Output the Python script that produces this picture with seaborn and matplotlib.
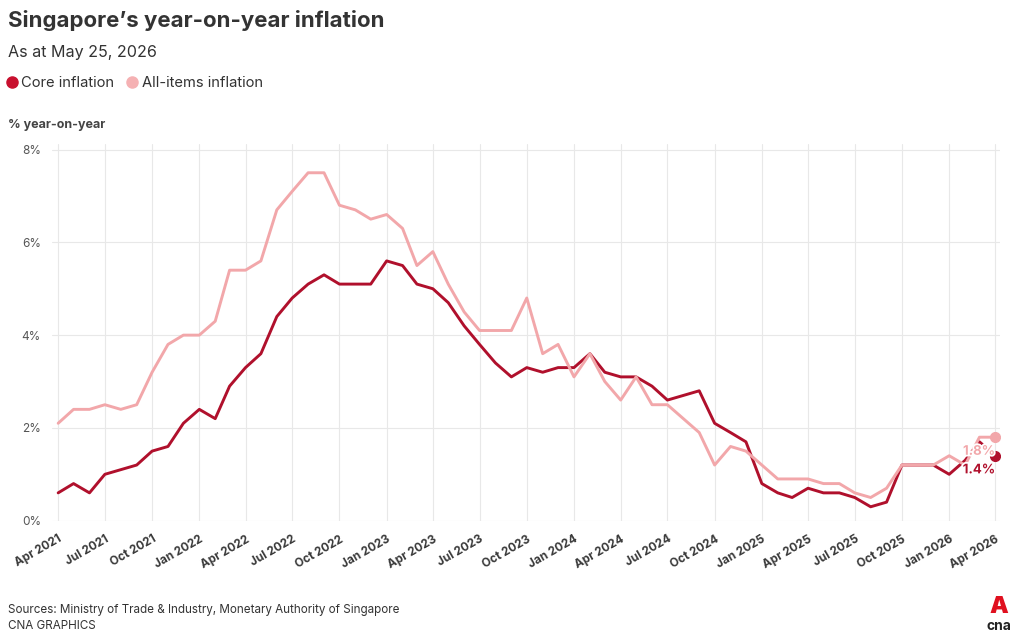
import pandas as pd
import numpy as np
import matplotlib
matplotlib.use('Agg')
import matplotlib.pyplot as plt
import matplotlib.dates as mdates
import matplotlib.patheffects as pe
from matplotlib.lines import Line2D
import seaborn as sns

# monthly data, Apr 2021 - Apr 2026
months = pd.date_range('2021-04-01', '2026-04-01', freq='MS')

core = [0.6, 0.8, 0.6, 1.0, 1.1, 1.2, 1.5, 1.6, 2.1,
        2.4, 2.2, 2.9, 3.3, 3.6, 4.4, 4.8, 5.1, 5.3, 5.1, 5.1, 5.1,
        5.6, 5.5, 5.1, 5.0, 4.7, 4.2, 3.8, 3.4, 3.1, 3.3, 3.2, 3.3,
        3.3, 3.6, 3.2, 3.1, 3.1, 2.9, 2.6, 2.7, 2.8, 2.1, 1.9, 1.7,
        0.8, 0.6, 0.5, 0.7, 0.6, 0.6, 0.5, 0.3, 0.4, 1.2, 1.2, 1.2,
        1.0, 1.3, 1.7, 1.4]

all_items = [2.1, 2.4, 2.4, 2.5, 2.4, 2.5, 3.2, 3.8, 4.0,
             4.0, 4.3, 5.4, 5.4, 5.6, 6.7, 7.1, 7.5, 7.5, 6.8, 6.7, 6.5,
             6.6, 6.3, 5.5, 5.8, 5.1, 4.5, 4.1, 4.1, 4.1, 4.8, 3.6, 3.8,
             3.1, 3.6, 3.0, 2.6, 3.1, 2.5, 2.5, 2.2, 1.9, 1.2, 1.6, 1.5,
             1.2, 0.9, 0.9, 0.9, 0.8, 0.8, 0.6, 0.5, 0.7, 1.2, 1.2, 1.2,
             1.4, 1.2, 1.8, 1.8]

series_names = ['Core inflation', 'All-items inflation']
colors = {'Core inflation': '#b0102c', 'All-items inflation': '#f2a7aa'}
legend_colors = {'Core inflation': '#c8102e', 'All-items inflation': '#f5b1b3'}

df = pd.DataFrame({'month': list(months) * 2,
                   'value': core + all_items,
                   'series': [series_names[0]] * len(core) + [series_names[1]] * len(all_items)})

sns.set_theme(style='whitegrid')
plt.rcParams['font.family'] = ['Inter', 'DejaVu Sans']
text_dark = '#333333'
grid_col = '#e8e8e8'

fig = plt.figure(figsize=(10.2, 6.41), dpi=100)
ax = fig.add_axes([52 / 1020, 1 - 520.7 / 641, 948 / 1020, (520.7 - 144) / 641])

sns.lineplot(data=df, x='month', y='value', hue='series', hue_order=series_names,
             palette=colors, linewidth=2.1, ax=ax, legend=False)

# end dots + labels
for name, vals in [('Core inflation', core), ('All-items inflation', all_items)]:
    ax.plot(months[-1], vals[-1], 'o', color=colors[name], markersize=7, zorder=5)
for name, vals in [('All-items inflation', all_items), ('Core inflation', core)]:
    ax.annotate(f'{vals[-1]:.1f}%', xy=(months[-1], vals[-1]), xytext=(0, -10.5),
                textcoords='offset points', ha='right', va='center', fontsize=9.5,
                fontweight='bold', color=colors[name], zorder=6,
                path_effects=[pe.withStroke(linewidth=2.5, foreground='white')])

ax.set_ylim(0, 8.12)
ax.set_yticks([0, 2, 4, 6, 8])
ax.set_yticklabels([f'{v}%' for v in [0, 2, 4, 6, 8]])
ax.set_xlim(months[0] - pd.Timedelta(days=12), months[-1] + pd.Timedelta(days=9))
ax.xaxis.set_major_locator(mdates.MonthLocator(bymonth=[1, 4, 7, 10]))
ax.xaxis.set_major_formatter(mdates.DateFormatter('%b %Y'))
ax.set_xlabel('')
ax.set_ylabel('')

ax.grid(True, color=grid_col, linewidth=0.8)
for s in ax.spines.values():
    s.set_visible(False)
ax.tick_params(axis='x', length=5, width=0.8, color=grid_col, pad=4)
ax.tick_params(axis='y', length=0, pad=8, labelsize=8.5, labelcolor='#555555')
for lbl in ax.get_xticklabels():
    lbl.set_rotation(30)
    lbl.set_ha('right')
    lbl.set_rotation_mode('anchor')
    lbl.set_fontsize(8.5)
    lbl.set_fontweight('bold')
    lbl.set_color('#3a3a3a')

# titles
fig.text(8 / 1020, 1 - 27 / 641, 'Singapore\u2019s year-on-year inflation', fontsize=16,
         fontweight='bold', color=text_dark, va='baseline')
fig.text(8 / 1020, 1 - 57 / 641, 'As at May 25, 2026', fontsize=11.6, color=text_dark, va='baseline')
fig.text(8 / 1020, 1 - 128 / 641, '% year-on-year', fontsize=9, fontweight='bold',
         color='#444444', va='baseline')

handles = [Line2D([], [], marker='o', linestyle='', markersize=8, color=legend_colors[n]) for n in series_names]
fig.legend(handles, series_names, loc='center left', bbox_to_anchor=(3 / 1020, 1 - 83 / 641),
           ncol=2, frameon=False, fontsize=10.6, handlelength=0.6, handletextpad=0.35,
           columnspacing=0.9, borderpad=0, borderaxespad=0.3, labelcolor=text_dark)

# footer
fig.text(8 / 1020, 1 - 610 / 641, 'Sources: Ministry of Trade & Industry, Monetary Authority of Singapore',
         fontsize=8.4, color=text_dark, va='center')
fig.text(8 / 1020, 1 - 626 / 641, 'CNA GRAPHICS', fontsize=8.4, color=text_dark, va='center')
fig.text(999 / 1020, 1 - 607 / 641, 'A', fontsize=17, fontweight='black', color='#e0101f',
         ha='center', va='center')
fig.text(999 / 1020, 1 - 626 / 641, 'cna', fontsize=10, fontweight='bold', color='#222222',
         ha='center', va='center')

fig.savefig('out.png', dpi=100, facecolor='white')
